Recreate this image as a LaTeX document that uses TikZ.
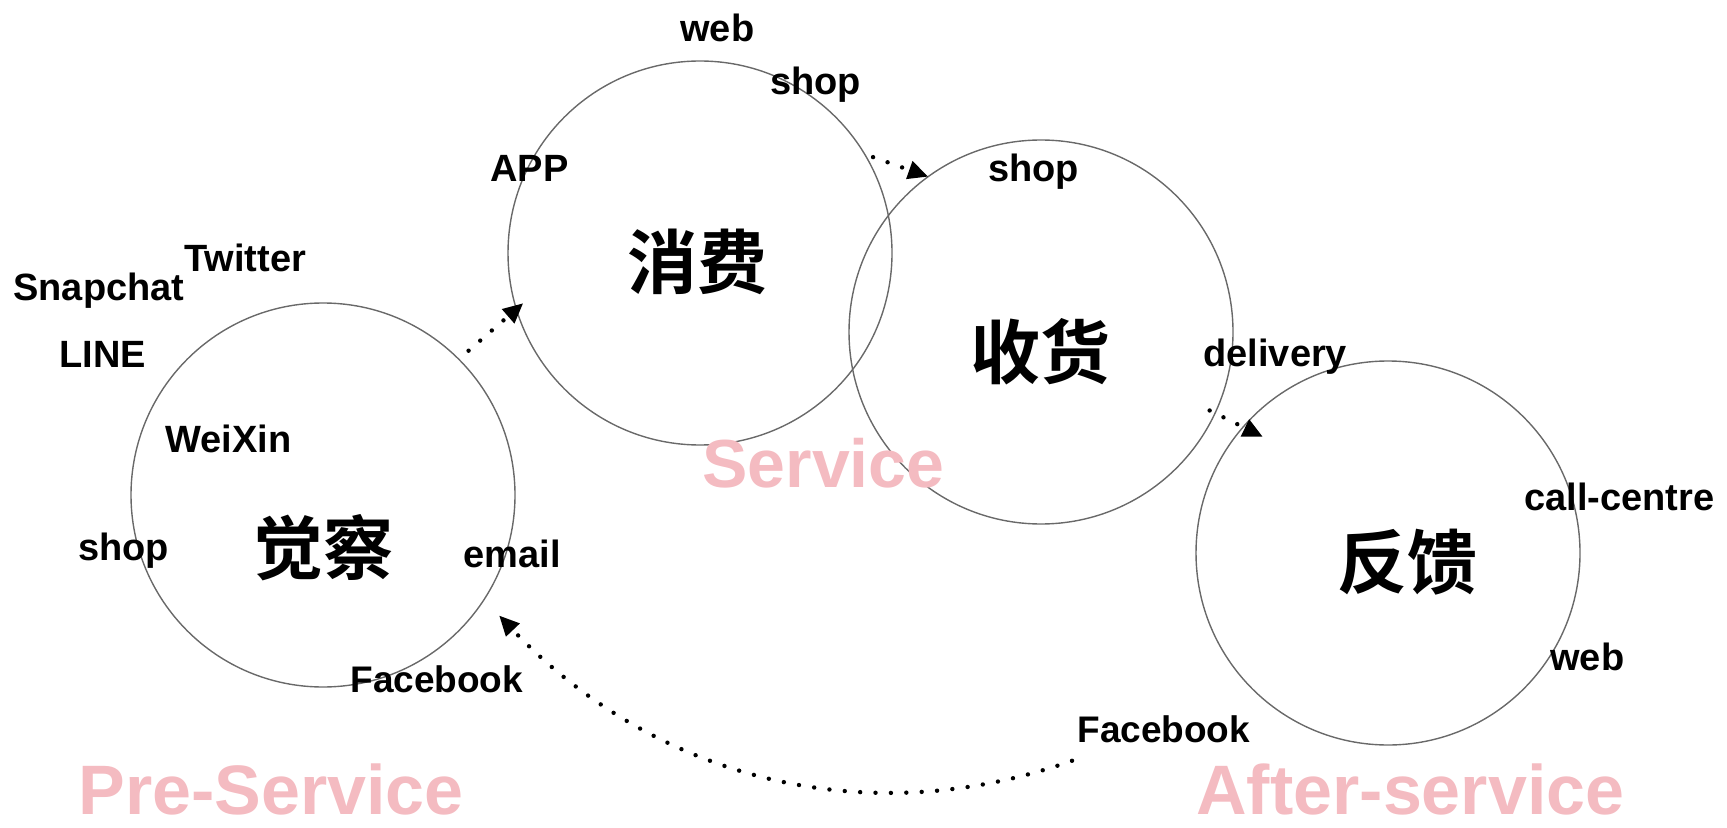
\documentclass[tikz,border=0pt]{standalone}
\usepackage{fontspec}
\setmainfont{Liberation Sans}
\newfontfamily\cjk{Noto Sans CJK SC Bold}
\usetikzlibrary{arrows.meta}

\definecolor{stagepink}{RGB}{244,187,193}
\definecolor{ringgray}{RGB}{105,105,105}

\tikzset{
  ring/.style={circle,draw=ringgray,line width=0.7pt,minimum size=192pt,inner sep=0pt,outer sep=0pt},
  channel/.style={anchor=base west,inner sep=0pt,font=\fontsize{19}{22}\selectfont\bfseries},
  stage/.style={anchor=base west,inner sep=0pt,text=stagepink,font=\fontsize{35}{40}\selectfont\bfseries},
  phase/.style={inner sep=0pt,font=\fontsize{35}{40}\selectfont\cjk},
  flow/.style={line width=2.2pt,dash pattern=on 0pt off 7.7pt,line cap=round,-{Triangle[length=10pt,width=9pt]}}
}

\begin{document}
\begin{tikzpicture}[x=0.5pt,y=0.5pt,yscale=-1,xscale=1]
\useasboundingbox (0,0) rectangle (1727,828);

%Shape: Circle
\node[ring] (aware) at (323,495) {};
\node[ring] (consume) at (700,253) {};
\node[ring] (harvest) at (1041,332) {};
\node[ring] (feedback) at (1388,553) {};

% Text Node
\node[phase] (awaretxt) at (323,548) {觉察};
\node[phase] (consumetxt) at (697,262) {消费};
\node[phase] (harvesttxt) at (1040,352) {收货};
\node[phase] (feedbacktxt) at (1407,562) {反馈};

% Text Node
\node[channel] (twitter) at (184,272) {Twitter};
\node[channel] (snapchat) at (13,300) {Snapchat};
\node[channel] (line) at (59,367) {LINE};
\node[channel] (weixin) at (165,452) {WeiXin};
\node[channel] (shopaware) at (78,560) {shop};
\node[channel] (email) at (463,567) {email};
\node[channel,font=\fontsize{18.5}{22}\selectfont\bfseries] (fbaware) at (350,692) {Facebook};
\node[channel] (webconsume) at (680,42) {web};
\node[channel] (shopconsume) at (770,95) {shop};
\node[channel] (app) at (490,182) {APP};
\node[channel] (shopharvest) at (988,182) {shop};
\node[channel] (delivery) at (1203,366) {delivery};
\node[channel] (callcentre) at (1524,510) {call-centre};
\node[channel] (webfeedback) at (1550,670) {web};
\node[channel,font=\fontsize{18.5}{22}\selectfont\bfseries] (fbafter) at (1077,742) {Facebook};

% Text Node
\node[stage] (pre) at (78,814) {Pre-Service};
\node[stage,font=\fontsize{34}{40}\selectfont\bfseries] (service) at (702,487) {Service};
\node[stage] (after) at (1196,814) {After-service};

%Straight Lines
\draw[flow,shorten <=6.5pt,shorten >=-4.5pt] (aware.45) -- (consume.197);
\draw[flow,shorten <=4.5pt] (consume.31) -- (harvest.126);
\draw[flow,shorten <=-3pt,shorten >=-11pt] (harvest.-25) -- (feedback.139);

%Curve Lines
\draw[flow,shorten >=11pt] ([shift={(-5,18)}]fbafter.south west) .. controls +(-212,75) and +(166,175) .. (aware.-33);

\end{tikzpicture}
\end{document}
